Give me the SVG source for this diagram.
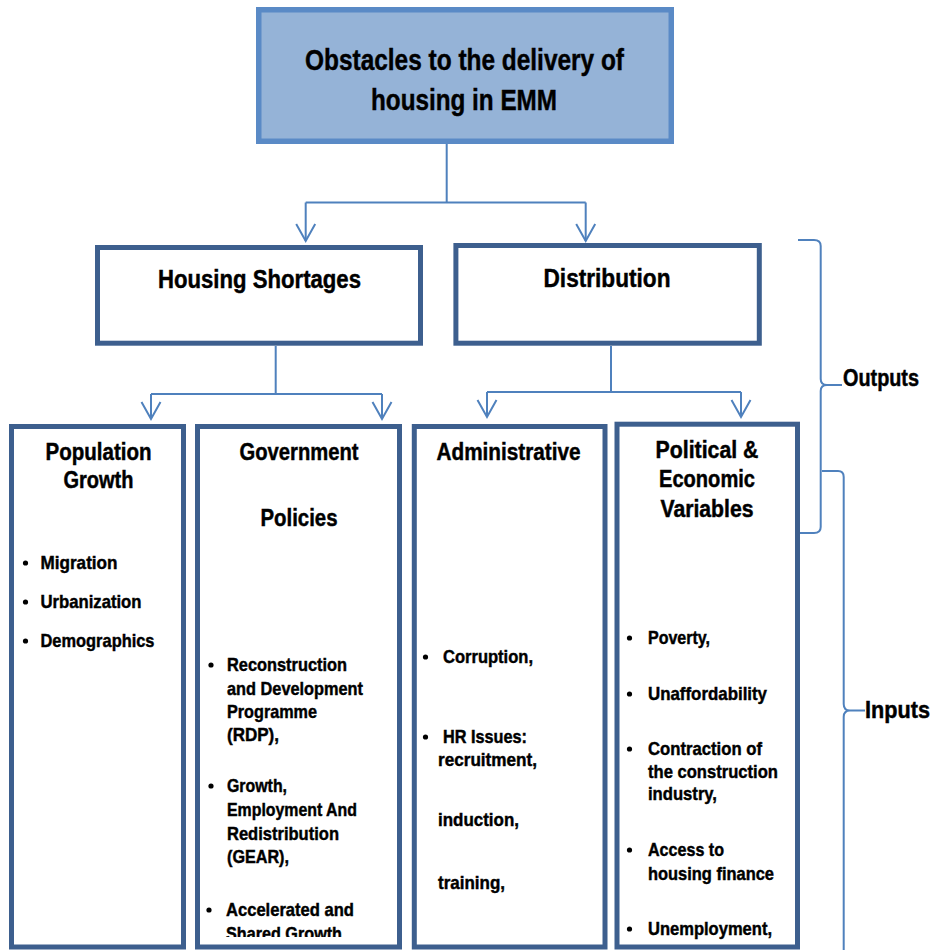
<svg xmlns="http://www.w3.org/2000/svg" width="938" height="950" viewBox="0 0 938 950">
<style>
.t{font-family:"Liberation Sans",Arial,sans-serif;font-weight:bold;fill:#000;stroke:#000;stroke-width:0.45}
.c{text-anchor:middle}
.h1{font-size:30px}
.h2{font-size:26px}
.h3{font-size:23px}
.b{font-size:19px}
.box{fill:#fff;stroke:#3D5F8E;stroke-width:5}
.top{fill:#95B3D7;stroke:#5A8AC6;stroke-width:5.5}
.ln{fill:none;stroke:#4F81BD;stroke-width:2}
.dot{fill:#000}
</style>
<defs>
<clipPath id="govclip"><rect x="195" y="424" width="207" height="513"/></clipPath>
</defs>

<g id="connectors">
<path class="ln" d="M446.7 144 V202.5 M305.7 202.5 H585.7 M305.7 202.5 V241 M585.7 202.5 V241"/>
<path class="ln" d="M296.2 224 L305.7 241 L315.2 224 M576.2 224 L585.7 241 L595.2 224"/>
<path class="ln" d="M275.7 346 V394 M151 394 H382 M151 394 V419 M382 394 V419"/>
<path class="ln" d="M141.5 402 L151 419 L160.5 402 M372.5 402 L382 419 L391.5 402"/>
<path class="ln" d="M611 346 V392 M487 392 H741 M487 392 V417 M741 392 V417"/>
<path class="ln" d="M477.5 400 L487 417 L496.5 400 M731.5 400 L741 417 L750.5 400"/>
</g>

<g id="brace-outputs">
<path class="ln" d="M798 240 H814 Q820.7 240 820.7 246 V379 Q820.7 385 827 385 H842 M827 385 Q820.7 385 820.7 391 V527 Q820.7 533 814 533 H798"/>
<text class="t h3" x="843" y="386" textLength="76" lengthAdjust="spacingAndGlyphs">Outputs</text>
</g>

<g id="brace-inputs">
<path class="ln" d="M822 471 H838 Q843.7 471 843.7 477 V704 Q843.7 710.5 850 710.5 H865 M850 710.5 Q843.7 710.5 843.7 717 V950"/>
<text class="t" style="font-size:24px" x="865" y="718" textLength="65" lengthAdjust="spacingAndGlyphs">Inputs</text>
</g>

<g id="node-top">
<rect class="top" x="258.75" y="9.75" width="412.5" height="131.5"/>
<text class="t h1 c" x="464.5" y="70" textLength="319" lengthAdjust="spacingAndGlyphs">Obstacles to the delivery of</text>
<text class="t h1 c" x="464" y="110" textLength="186" lengthAdjust="spacingAndGlyphs">housing in EMM</text>
</g>

<g id="node-housing">
<rect class="box" x="97.5" y="247.5" width="323" height="95.7"/>
<text class="t h2 c" x="259.5" y="288" textLength="203" lengthAdjust="spacingAndGlyphs">Housing Shortages</text>
</g>

<g id="node-distribution">
<rect class="box" x="455.9" y="245.5" width="303.4" height="97.7"/>
<text class="t h2 c" x="607" y="287" textLength="127" lengthAdjust="spacingAndGlyphs">Distribution</text>
</g>

<g id="node-population">
<rect class="box" x="11.5" y="426.5" width="172" height="520.5"/>
<text class="t h3 c" x="98.5" y="460" textLength="106" lengthAdjust="spacingAndGlyphs">Population</text>
<text class="t h3 c" x="98.5" y="488" textLength="70" lengthAdjust="spacingAndGlyphs">Growth</text>
<circle class="dot" cx="25.5" cy="563" r="2.6"/>
<text class="t b" x="40.5" y="569" textLength="77" lengthAdjust="spacingAndGlyphs">Migration</text>
<circle class="dot" cx="25.5" cy="602" r="2.6"/>
<text class="t b" x="40.5" y="608" textLength="101" lengthAdjust="spacingAndGlyphs">Urbanization</text>
<circle class="dot" cx="25.5" cy="641" r="2.6"/>
<text class="t b" x="40.5" y="647" textLength="114" lengthAdjust="spacingAndGlyphs">Demographics</text>
</g>

<g id="node-government">
<rect class="box" x="197.5" y="426.5" width="202" height="520.5"/>
<text class="t h3 c" x="299" y="460" textLength="119" lengthAdjust="spacingAndGlyphs">Government</text>
<text class="t h3 c" x="299" y="526" textLength="77" lengthAdjust="spacingAndGlyphs">Policies</text>
<g clip-path="url(#govclip)">
<circle class="dot" cx="211" cy="665" r="2.6"/>
<text class="t b" x="227" y="671" textLength="120" lengthAdjust="spacingAndGlyphs">Reconstruction</text>
<text class="t b" x="227" y="695" textLength="136" lengthAdjust="spacingAndGlyphs">and Development</text>
<text class="t b" x="227" y="718" textLength="90" lengthAdjust="spacingAndGlyphs">Programme</text>
<text class="t b" x="227" y="741" textLength="52" lengthAdjust="spacingAndGlyphs">(RDP),</text>
<circle class="dot" cx="211" cy="786" r="2.6"/>
<text class="t b" x="227" y="792" textLength="60" lengthAdjust="spacingAndGlyphs">Growth,</text>
<text class="t b" x="227" y="816" textLength="130" lengthAdjust="spacingAndGlyphs">Employment And</text>
<text class="t b" x="227" y="840" textLength="112" lengthAdjust="spacingAndGlyphs">Redistribution</text>
<text class="t b" x="227" y="863" textLength="62" lengthAdjust="spacingAndGlyphs">(GEAR),</text>
<circle class="dot" cx="209" cy="910" r="2.6"/>
<text class="t b" x="226" y="916" textLength="128" lengthAdjust="spacingAndGlyphs">Accelerated and</text>
<text class="t b" x="226" y="940" textLength="116" lengthAdjust="spacingAndGlyphs">Shared Growth</text>
</g>
</g>

<g id="node-administrative">
<rect class="box" x="414.3" y="426.5" width="190.7" height="520.5"/>
<text class="t h3 c" x="508.5" y="460" textLength="144" lengthAdjust="spacingAndGlyphs">Administrative</text>
<circle class="dot" cx="425.5" cy="657" r="2.6"/>
<text class="t b" x="443" y="663" textLength="90" lengthAdjust="spacingAndGlyphs">Corruption,</text>
<circle class="dot" cx="425.5" cy="737" r="2.6"/>
<text class="t b" x="443" y="743" textLength="84" lengthAdjust="spacingAndGlyphs">HR Issues:</text>
<text class="t b" x="438" y="766" textLength="99" lengthAdjust="spacingAndGlyphs">recruitment,</text>
<text class="t b" x="438" y="826" textLength="81" lengthAdjust="spacingAndGlyphs">induction,</text>
<text class="t b" x="438" y="889" textLength="67" lengthAdjust="spacingAndGlyphs">training,</text>
</g>

<g id="node-political">
<rect class="box" x="617" y="424.2" width="180.5" height="522.8"/>
<text class="t h3 c" x="707" y="458" textLength="103" lengthAdjust="spacingAndGlyphs">Political &amp;</text>
<text class="t h3 c" x="707" y="487" textLength="96" lengthAdjust="spacingAndGlyphs">Economic</text>
<text class="t h3 c" x="707" y="517" textLength="93" lengthAdjust="spacingAndGlyphs">Variables</text>
<circle class="dot" cx="629.5" cy="638" r="2.6"/>
<text class="t b" x="648" y="644" textLength="62" lengthAdjust="spacingAndGlyphs">Poverty,</text>
<circle class="dot" cx="629.5" cy="694" r="2.6"/>
<text class="t b" x="648" y="700" textLength="119" lengthAdjust="spacingAndGlyphs">Unaffordability</text>
<circle class="dot" cx="629.5" cy="749" r="2.6"/>
<text class="t b" x="648" y="755" textLength="114" lengthAdjust="spacingAndGlyphs">Contraction of</text>
<text class="t b" x="648" y="778" textLength="130" lengthAdjust="spacingAndGlyphs">the construction</text>
<text class="t b" x="648" y="800" textLength="69" lengthAdjust="spacingAndGlyphs">industry,</text>
<circle class="dot" cx="629.5" cy="850" r="2.6"/>
<text class="t b" x="648" y="856" textLength="76" lengthAdjust="spacingAndGlyphs">Access to</text>
<text class="t b" x="648" y="880" textLength="126" lengthAdjust="spacingAndGlyphs">housing finance</text>
<circle class="dot" cx="629.5" cy="929" r="2.6"/>
<text class="t b" x="648" y="935" textLength="124" lengthAdjust="spacingAndGlyphs">Unemployment,</text>
</g>
</svg>
